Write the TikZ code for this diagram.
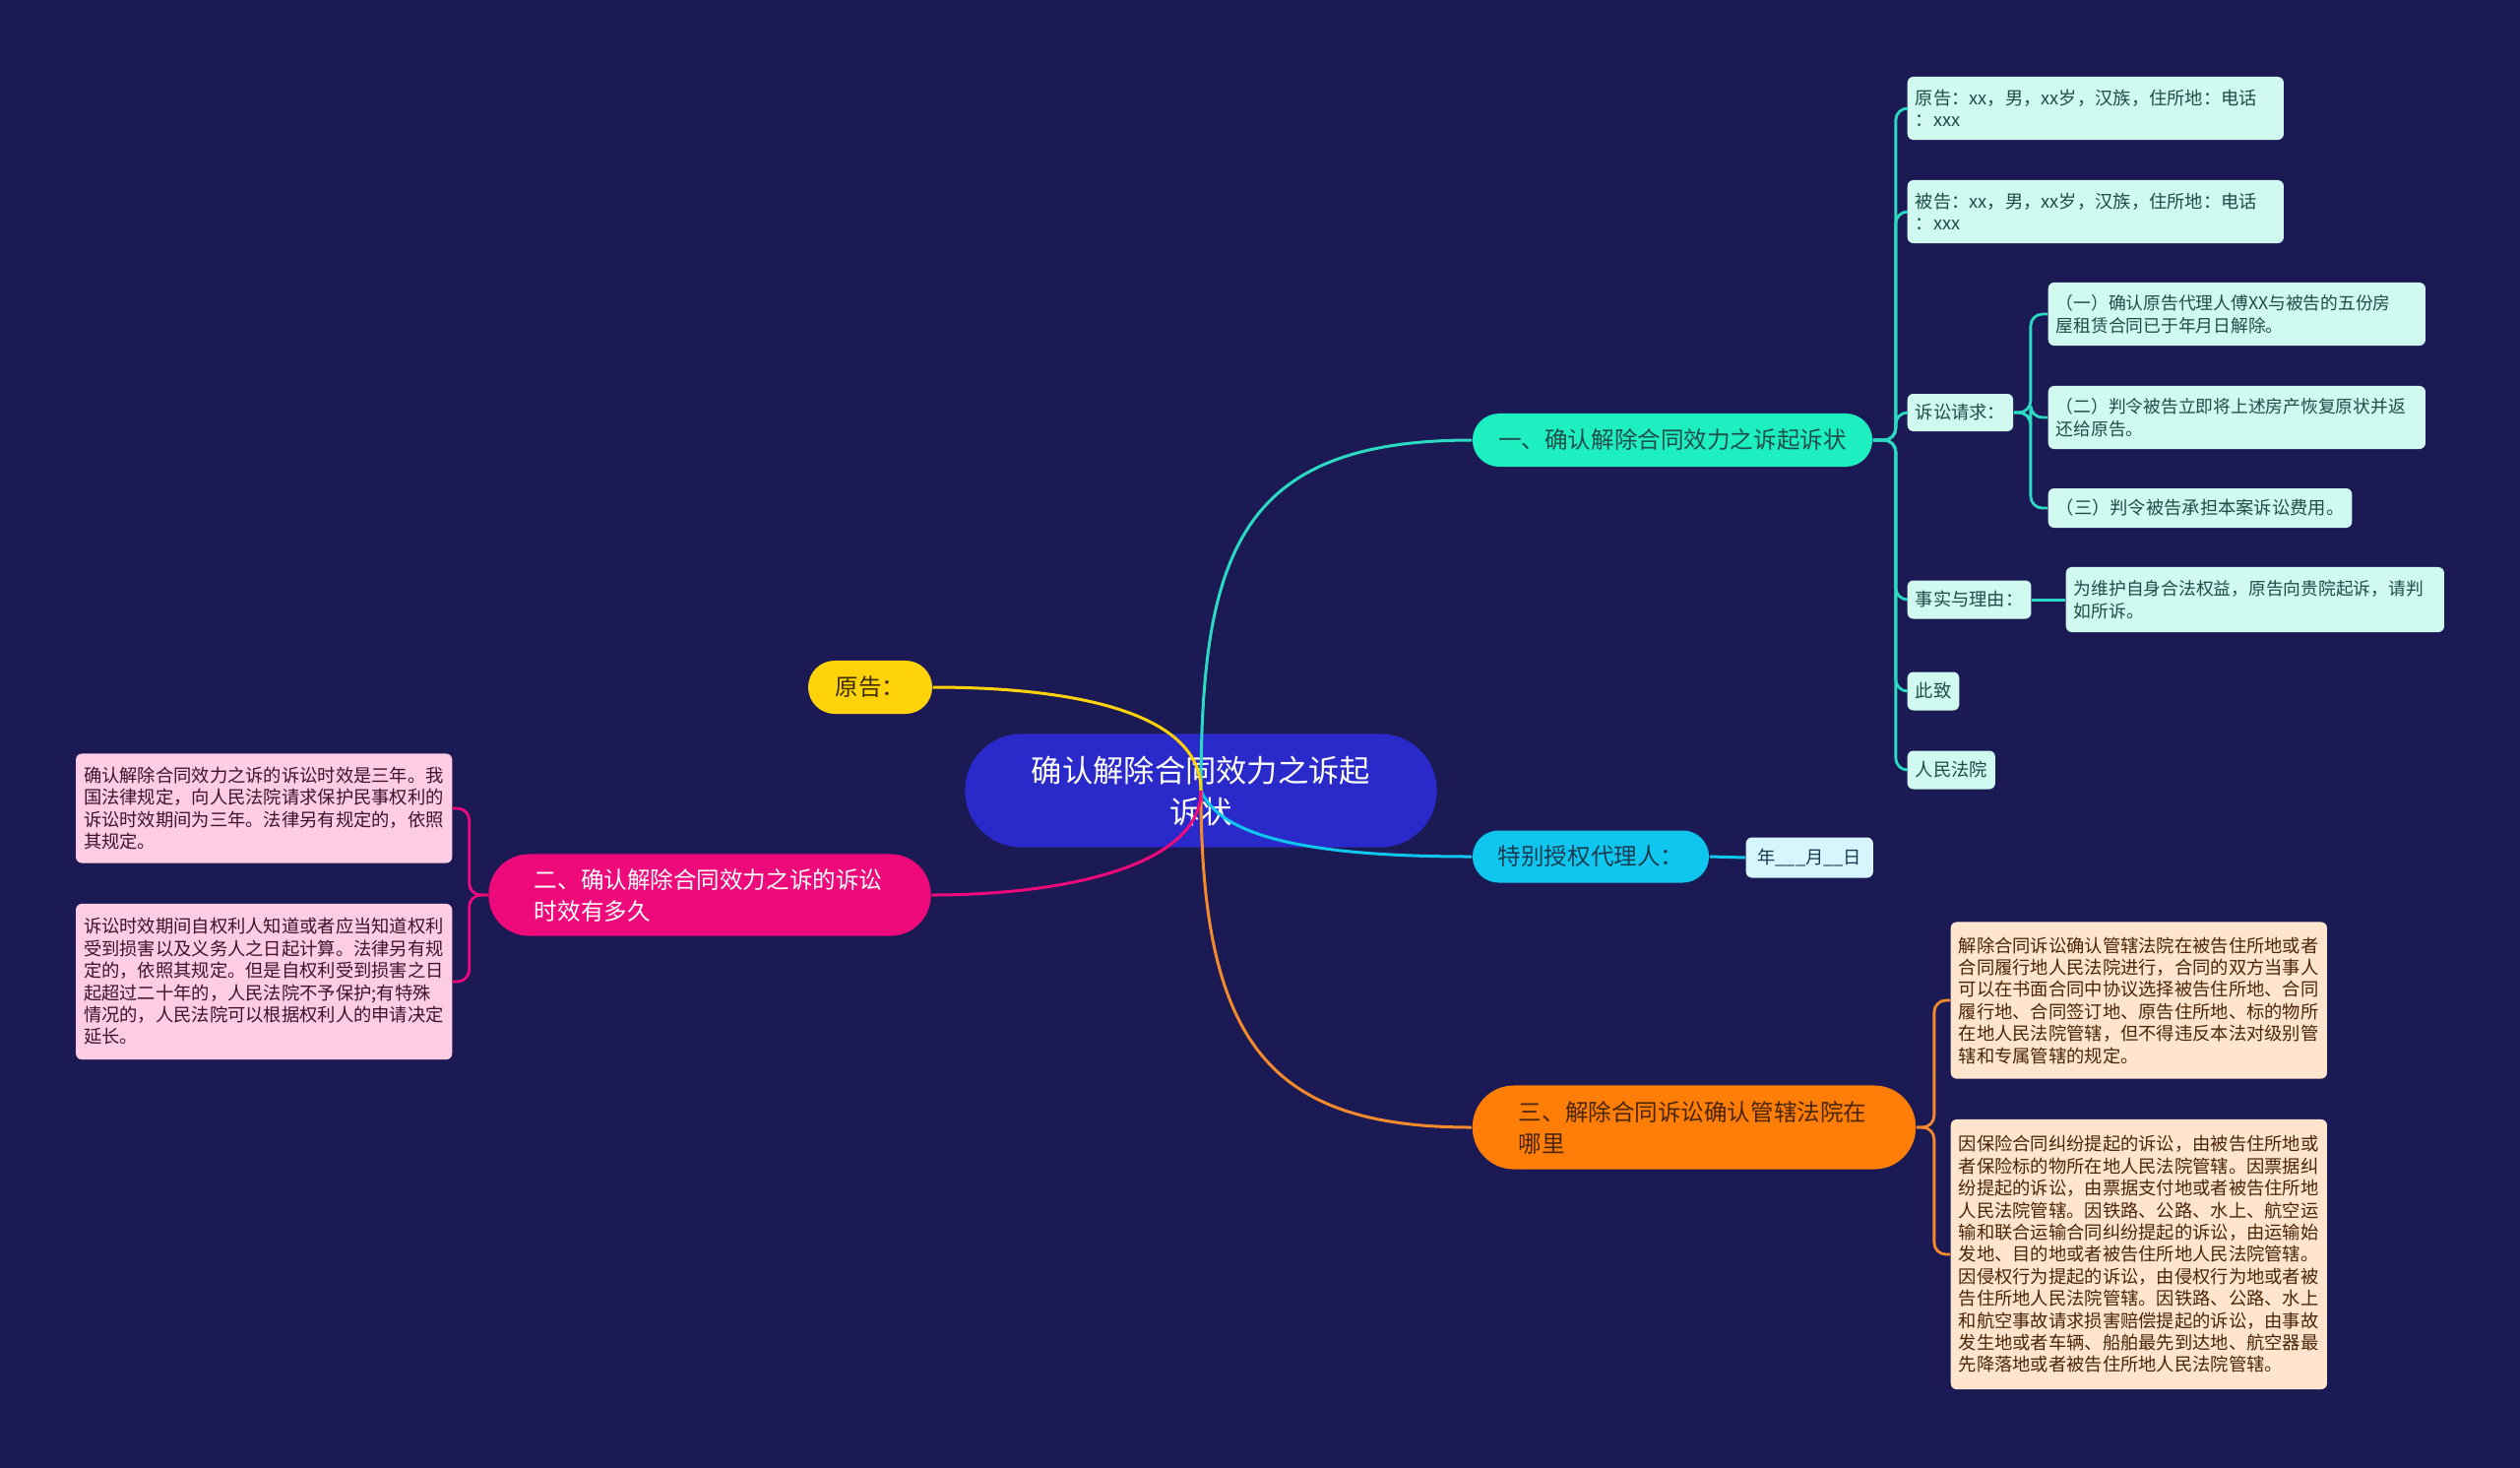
\documentclass[tikz,border=0pt]{standalone}
\usepackage{fontspec}
\newfontfamily\cjk{Noto Sans CJK SC}
\usepackage{tikz}
\definecolor{cBg}{HTML}{1B1A54}
\definecolor{cRoot}{HTML}{2A29C9}
\definecolor{cMint}{HTML}{1DEFC0}
\definecolor{cMintWire}{HTML}{2CD9C2}
\definecolor{cMintLeaf}{HTML}{D0FAF0}
\definecolor{cSky}{HTML}{0FC7EE}
\definecolor{cSkyLeaf}{HTML}{D6F5FC}
\definecolor{cOrange}{HTML}{FF7E07}
\definecolor{cOrangeWire}{HTML}{F48A2C}
\definecolor{cPeach}{HTML}{FFE5CE}
\definecolor{cYellow}{HTML}{FFD30A}
\definecolor{cMagenta}{HTML}{EE0A7B}
\definecolor{cPink}{HTML}{FFCDE3}
\definecolor{cInkTeal}{HTML}{1E4D4A}
\definecolor{cInkNavy}{HTML}{173C52}
\definecolor{cInkBrown}{HTML}{4A2506}
\definecolor{cInkPlum}{HTML}{3D1330}
\definecolor{cInkOlive}{HTML}{3A2D00}
\newcommand{\leaffont}{\cjk\fontsize{5.2pt}{6.37pt}\selectfont}
\newcommand{\narrowfont}{\cjk\fontsize{5.05pt}{6.37pt}\selectfont}
\newcommand{\branchfont}{\cjk\fontsize{6.7pt}{9.1pt}\selectfont}
\newcommand{\rootfont}{\cjk\fontsize{8.9pt}{11.95pt}\selectfont}
\newcommand{\twig}[4]{
\draw[#1] (#2) -- ([xshift=#3]#2) |- (#4);
}

\begin{document}
\begin{tikzpicture}[x=0.01cm,y=-0.01cm,
  leaf/.style={font=\leaffont,rounded corners=0.06cm,inner xsep=0.08cm,inner ysep=0pt,align=left},
  mleaf/.style={leaf,fill=cMintLeaf,text=cInkTeal,anchor=west},
  sleaf/.style={leaf,fill=cSkyLeaf,text=cInkNavy,anchor=west},
  oleaf/.style={leaf,fill=cPeach,text=cInkBrown,text width=3.66cm,anchor=west},
  pleaf/.style={leaf,fill=cPink,text=cInkPlum,text width=3.66cm,anchor=east},
  branch/.style={font=\branchfont,inner sep=0pt,align=left},
  wire/.style={line width=0.03cm},
  twigwire/.style={line width=0.028cm,rounded corners=0.12cm}]
\useasboundingbox (0,0) rectangle (2560,1490);
\fill[cBg] (-10,-10) rectangle (2570,1500);

\node[font=\rootfont,text=white,fill=cRoot,rounded corners=0.57cm,minimum width=4.79cm,minimum height=1.15cm,align=center] (root) at (1220,803) {确认解除合同效力之诉起\\诉状};

\node[branch,fill=cMint,text=cInkTeal,rounded corners=0.27cm,minimum width=4.06cm,minimum height=0.54cm] (one) at (1699,447) {一、确认解除合同效力之诉起诉状};
\node[branch,fill=cSky,text=cInkNavy,rounded corners=0.265cm,minimum width=2.4cm,minimum height=0.53cm] (agent) at (1616,870) {特别授权代理人：};
\node[branch,fill=cOrange,text=cInkBrown,rounded corners=0.42cm,minimum width=4.5cm,minimum height=0.85cm,text width=3.56cm] (three) at (1721,1145) {三、解除合同诉讼确认管辖法院在\\哪里};
\node[branch,fill=cYellow,text=cInkOlive,rounded corners=0.27cm,minimum width=1.26cm,minimum height=0.54cm] (plaintiff) at (884,698) {原告：};
\node[branch,fill=cMagenta,text=white,rounded corners=0.41cm,minimum width=4.49cm,minimum height=0.83cm,text width=3.56cm] (two) at (721,909) {二、确认解除合同效力之诉的诉讼\\时效有多久};

\node[mleaf,text width=3.66cm,minimum height=0.64cm] (c1) at (1937,110) {原告：xx，男，xx岁，汉族，住所地：电话\\：xxx};
\node[mleaf,text width=3.66cm,minimum height=0.64cm] (c2) at (1937,215) {被告：xx，男，xx岁，汉族，住所地：电话\\：xxx};
\node[mleaf,minimum height=0.38cm] (c3) at (1937,419) {诉讼请求：};
\node[mleaf,font=\narrowfont,text width=3.67cm,minimum height=0.64cm] (d1) at (2080,319) {（一）确认原告代理人傅XX与被告的五份房\\屋租赁合同已于年月日解除。};
\node[mleaf,font=\narrowfont,text width=3.67cm,minimum height=0.64cm] (d2) at (2080,424) {（二）判令被告立即将上述房产恢复原状并返\\还给原告。};
\node[mleaf,minimum height=0.40cm] (d3) at (2080,516) {（三）判令被告承担本案诉讼费用。};
\node[mleaf,minimum height=0.39cm] (c4) at (1937,609) {事实与理由：};
\node[mleaf,font=\narrowfont,text width=3.68cm,minimum height=0.66cm] (e1) at (2098,609) {为维护自身合法权益，原告向贵院起诉，请判\\如所诉。};
\node[mleaf,minimum height=0.39cm] (c5) at (1937,702) {此致};
\node[mleaf,minimum height=0.39cm] (c6) at (1937,782) {人民法院};

\node[sleaf,minimum height=0.41cm,minimum width=1.29cm] (date) at (1773,871) {年\_\_\_月\_\_日};

\node[oleaf,minimum height=1.59cm] (g1) at (1981,1016) {解除合同诉讼确认管辖法院在被告住所地或者\\合同履行地人民法院进行，合同的双方当事人\\可以在书面合同中协议选择被告住所地、合同\\履行地、合同签订地、原告住所地、标的物所\\在地人民法院管辖，但不得违反本法对级别管\\辖和专属管辖的规定。};
\node[oleaf,minimum height=2.74cm] (g2) at (1981,1274) {因保险合同纠纷提起的诉讼，由被告住所地或\\者保险标的物所在地人民法院管辖。因票据纠\\纷提起的诉讼，由票据支付地或者被告住所地\\人民法院管辖。因铁路、公路、水上、航空运\\输和联合运输合同纠纷提起的诉讼，由运输始\\发地、目的地或者被告住所地人民法院管辖。\\因侵权行为提起的诉讼，由侵权行为地或者被\\告住所地人民法院管辖。因铁路、公路、水上\\和航空事故请求损害赔偿提起的诉讼，由事故\\发生地或者车辆、船舶最先到达地、航空器最\\先降落地或者被告住所地人民法院管辖。};

\node[pleaf,minimum height=1.11cm] (f1) at (460,821) {确认解除合同效力之诉的诉讼时效是三年。我\\国法律规定，向人民法院请求保护民事权利的\\诉讼时效期间为三年。法律另有规定的，依照\\其规定。};
\node[pleaf,minimum height=1.58cm] (f2) at (460,997) {诉讼时效期间自权利人知道或者应当知道权利\\受到损害以及义务人之日起计算。法律另有规\\定的，依照其规定。但是自权利受到损害之日\\起超过二十年的，人民法院不予保护;有特殊\\情况的，人民法院可以根据权利人的申请决定\\延长。};

\draw[wire,cMintWire] (root.center) .. controls (1220,560) and (1260,447) .. (one.west);
\draw[wire,cSky] (root.center) .. controls (1240,850) and (1330,870) .. (agent.west);
\draw[wire,cOrangeWire] (root.center) .. controls (1220,1060) and (1290,1145) .. (three.west);
\draw[wire,cYellow] (root.center) .. controls (1220,720) and (1080,698) .. (plaintiff.east);
\draw[wire,cMagenta] (root.center) .. controls (1220,880) and (1080,909) .. (two.east);

\foreach \c in {c1,c2,c3,c4,c5,c6} {\twig{twigwire,cMintWire}{one.east}{0.23cm}{\c.west}}
\foreach \c in {d1,d2,d3} {\twig{twigwire,cMintWire}{c3.east}{0.17cm}{\c.west}}
\draw[wire,cMintWire] (c4.east) -- (e1.west);
\draw[wire,cSky] (agent.east) -- (date.west);
\foreach \c in {g1,g2} {\twig{twigwire,cOrangeWire}{three.east}{0.18cm}{\c.west}}
\foreach \c in {f1,f2} {\twig{twigwire,cMagenta}{two.west}{-0.19cm}{\c.east}}
\end{tikzpicture}
\end{document}
